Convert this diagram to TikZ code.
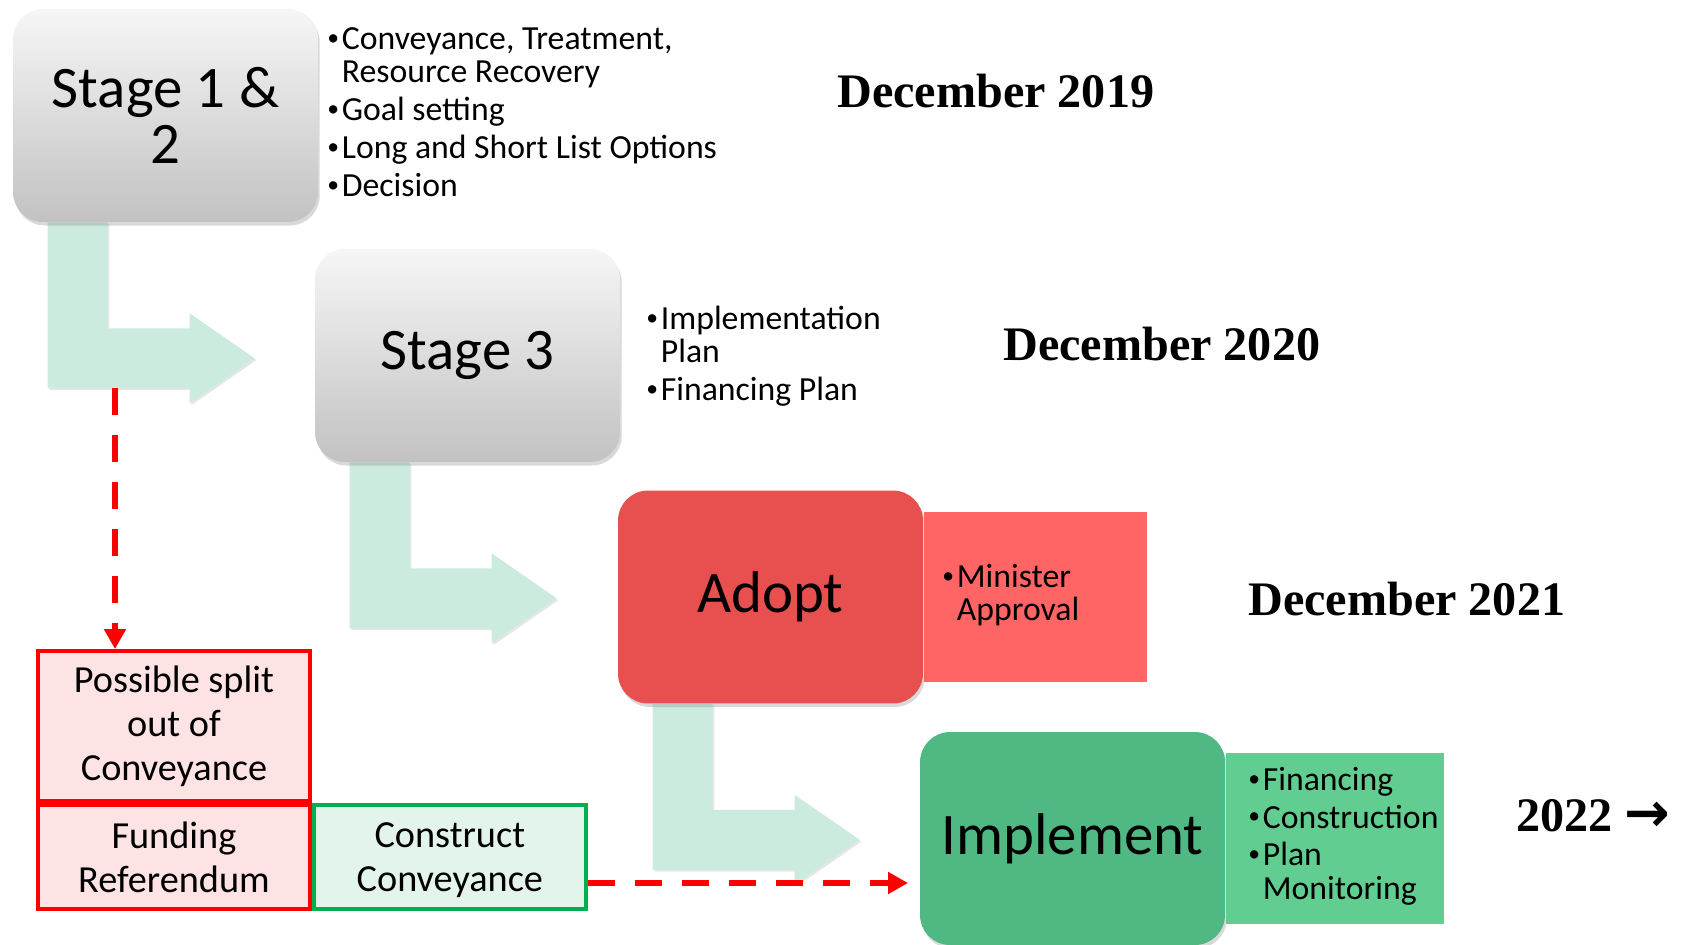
\documentclass[tikz,border=0pt]{standalone}
\usepackage{fontspec}
\usepackage{graphicx}
\setmainfont{Carlito}
\newfontfamily\datefont{Liberation Serif}
\newfontfamily\symfont{DejaVu Sans}
\usetikzlibrary{positioning,shadows,arrows.meta,calc,backgrounds}

\definecolor{mint}{HTML}{CCEBDF}
\definecolor{graytop}{HTML}{F6F6F6}
\definecolor{graybot}{HTML}{C2C2C2}
\definecolor{adoptred}{HTML}{E84F4F}
\definecolor{adoptside}{HTML}{FF6565}
\definecolor{implgreen}{HTML}{50B983}
\definecolor{implside}{HTML}{62CD91}
\definecolor{splitpink}{HTML}{FDE3E4}
\definecolor{constructgreen}{HTML}{E3F5EA}
\definecolor{greenline}{HTML}{00B050}

\newcommand{\bul}{\makebox[0.29cm][l]{\raisebox{0.12em}{\scalebox{0.7}{\textbullet}}}}
\newcommand{\cont}{\hspace*{0.29cm}}

\begin{document}
\begin{tikzpicture}[x=0.02cm, y=-0.02cm,
  stage/.style={rounded corners=0.6cm, minimum width=6.1cm, minimum height=4.26cm, align=center, inner sep=0pt, font=\fontsize{33.5}{32}\selectfont, drop shadow={opacity=0.3, shadow xshift=1pt, shadow yshift=-2pt}},
  greystage/.style={stage, top color=graytop, bottom color=graybot},
  side/.style={minimum width=4.46cm, minimum height=3.42cm, inner sep=0pt},
  bullets/.style={anchor=west, align=left, inner sep=0pt, font=\fontsize{19.2}{19}\selectfont},
  date/.style={anchor=base west, inner sep=0pt, font=\datefont\bfseries\fontsize{27.4}{30}\selectfont},
  lowbox/.style={minimum width=5.44cm, align=center, inner sep=0pt, line width=2.2pt, font=\fontsize{21.8}{25}\selectfont},
  redbox/.style={lowbox, draw=red, fill=splitpink},
  greenbox/.style={lowbox, draw=greenline, fill=constructgreen},
  bent/.style={fill=mint, drop shadow={opacity=0.2, shadow xshift=1pt, shadow yshift=-1pt}},
  dashline/.style={draw=red, line width=3.7pt, dash pattern=on 0.54cm off 0.4cm, -{Triangle[length=0.4cm, width=0.42cm]}}
]
\useasboundingbox (0,0) rectangle (1682,944);

% Stages
\node[greystage] (s12) at (165.5,115.5) {Stage 1 \&\\2};
\node[greystage] (s3) at (467.5,355.5) {Stage 3};
\node[stage, fill=adoptred] (adopt) at (770.5,597) {Adopt};
\node[stage, fill=implgreen] (impl) at (1072.5,838.5) {Implement};

% Side panels
\node[side, fill=adoptside, right=0pt of adopt] (adoptinfo) {};
\node[side, fill=implside, minimum width=4.36cm, right=0pt of impl] (implinfo) {};

% Bullet lists
\node[bullets] (s12list) at (327,112) {\bul Conveyance, Treatment,\\ \cont Resource Recovery\\[0.09cm] \bul Goal setting\\[0.09cm] \bul Long and Short List Options\\[0.09cm] \bul Decision};
\node[bullets] (s3list) at (646,356) {\bul Implementation\\ \cont Plan\\[0.09cm] \bul Financing Plan};
\node[bullets] (adoptlist) at (942,595) {\bul Minister\\ \cont Approval};
\node[bullets] (impllist) at (1248,836) {\bul Financing\\[0.09cm] \bul Construction\\[0.09cm] \bul Plan\\ \cont Monitoring};

% Dates
\node[date] (d19) at (837,107) {December 2019};
\node[date] (d20) at (1003,360) {December 2020};
\node[date] (d21) at (1248,615) {December 2021};
\node[date] (d22) at (1516,831) {2022 {\symfont\bfseries\fontsize{31}{30}\selectfont →}};

% Conveyance track
\node[redbox, minimum height=3.0cm] (split) at (174,726) {Possible split\\out of\\Conveyance};
\node[redbox, minimum height=2.08cm] (funding) at (174,857) {Funding\\Referendum};
\node[greenbox, minimum height=2.08cm, right=0pt of funding] (construct) {Construct\\\raisebox{0pt}[\height][0pt]{Conveyance}};

% Bent arrows
\begin{scope}[on background layer]
\foreach \a in {s12, s3, adopt}
  \fill[bent] ($(\a.south west)+(35,0)$) -- ++(60,0) -- ++(0,106) -- ++(82,0) -- ++(0,-15) -- ++(65,45) -- ++(-65,45) -- ++(0,-15) -- ++(-142,0) -- cycle;
\end{scope}

% Dashed links
\coordinate (dstart) at (115,388);
\coordinate (dend) at (908,883);
\draw[dashline] (dstart) -- (dstart |- split.north);
\draw[dashline] (construct.east |- dend) -- (dend);

\end{tikzpicture}
\end{document}
